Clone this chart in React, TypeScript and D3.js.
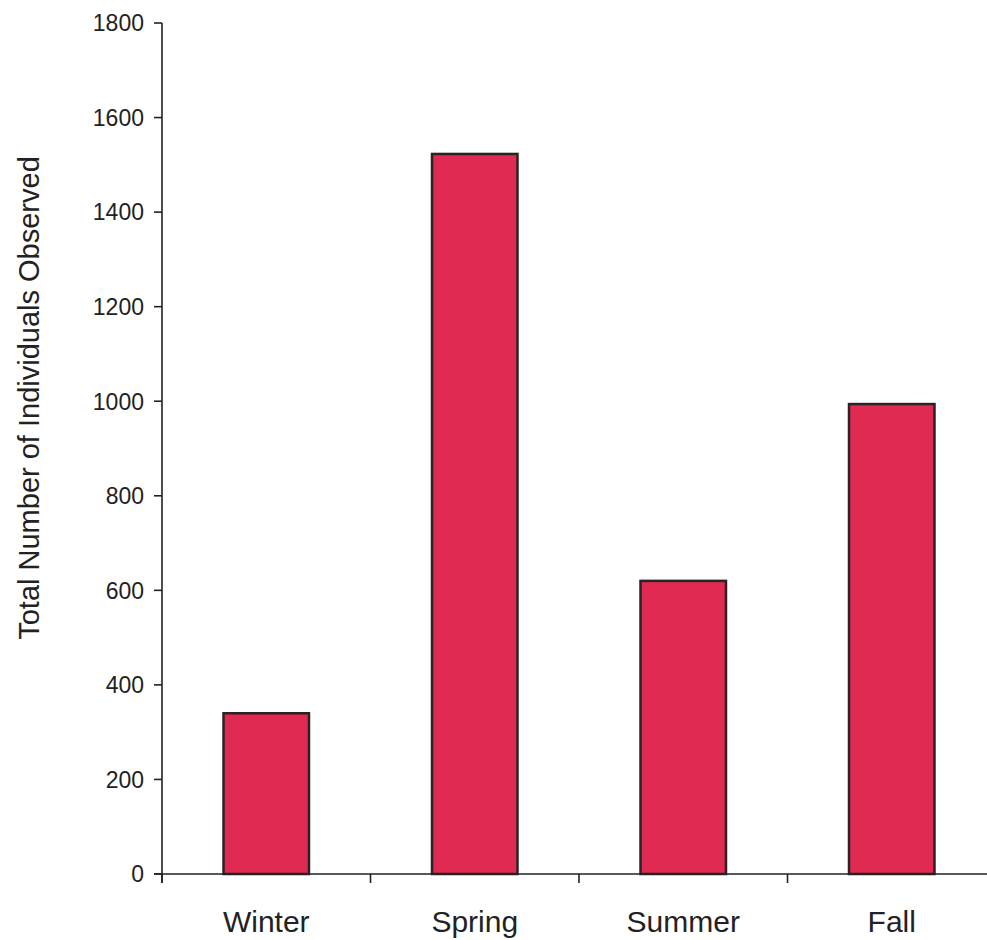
import React from "react";
import * as d3 from "d3";

const categories = ["Winter", "Spring", "Summer", "Fall"];
const values = [340, 1523, 620, 994];
const yTicks = [0, 200, 400, 600, 800, 1000, 1200, 1400, 1600, 1800];
const yTitle = "Total Number of Individuals Observed";

export default function App() {
  const W = 987, H = 940;
  const x0 = 162, x1 = 996, yBottom = 874, yTop = 23;
  const x = d3.scaleBand<string>().domain(categories).range([x0, x1]).paddingInner(0).paddingOuter(0);
  const y = d3.scaleLinear().domain([0, 1800]).range([yBottom, yTop]);
  const barW = x.bandwidth() * 0.41;
  const font = "Arial, 'Liberation Sans', Helvetica, sans-serif";
  const boundaries = [...categories.map((c) => x(c)!), x1];
  return (
    <div style={{ position: "absolute", left: 0, top: 0 }}>
      <svg width={W} height={H} style={{ display: "block", background: "#fff" }} fontFamily={font}>
        <rect x={0} y={0} width={W} height={H} fill="#fff" />
        {categories.map((c, i) => {
          const cx = x(c)! + x.bandwidth() / 2;
          return (
            <rect
              key={c}
              x={cx - barW / 2}
              y={y(values[i])}
              width={barW}
              height={yBottom - y(values[i])}
              fill="#e02a51"
              stroke="#2a2224"
              strokeWidth={2.5}
            />
          );
        })}
        {/* y axis */}
        <line x1={x0} x2={x0} y1={yTop} y2={yBottom + 9} stroke="#222" strokeWidth={1.6} />
        {yTicks.map((t) => (
          <g key={t}>
            <line x1={x0 - 8} x2={x0} y1={y(t)} y2={y(t)} stroke="#222" strokeWidth={1.6} />
            <text x={x0 - 18} y={y(t)} dy="0.36em" textAnchor="end" fontSize={23} fill="#222">
              {t}
            </text>
          </g>
        ))}
        {/* x axis */}
        <line x1={x0 - 8} x2={x1} y1={yBottom} y2={yBottom} stroke="#222" strokeWidth={1.6} />
        {boundaries.map((b, i) => (
          <line key={i} x1={b} x2={b} y1={yBottom} y2={yBottom + 9} stroke="#222" strokeWidth={1.6} />
        ))}
        {categories.map((c) => (
          <text key={c} x={x(c)! + x.bandwidth() / 2} y={932} textAnchor="middle" fontSize={30} fill="#222">
            {c}
          </text>
        ))}
        <text
          transform={`translate(39, 398) rotate(-90)`}
          textAnchor="middle"
          fontSize={29}
          fill="#222"
        >
          {yTitle}
        </text>
      </svg>
    </div>
  );
}
